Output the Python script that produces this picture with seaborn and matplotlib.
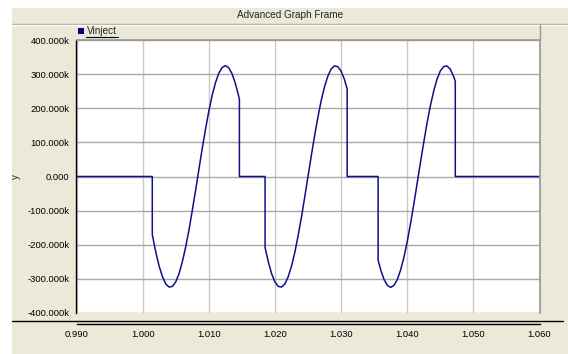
import pandas as pd
import seaborn as sns
import matplotlib.pyplot as plt
from matplotlib.lines import Line2D
from matplotlib.patches import Rectangle

# Vinject trace, values in k (thousands); three phase-controlled pulses
pulse1_t = [1.00146, 1.0015, 1.0020, 1.0025, 1.0030, 1.0035, 1.0040, 1.0045, 1.0050,
            1.0055, 1.0060, 1.0065, 1.0070, 1.0075, 1.0080, 1.0085, 1.0090, 1.0095,
            1.0100, 1.0105, 1.0110, 1.0115, 1.0120, 1.0125, 1.0130, 1.0135, 1.0140,
            1.0145, 1.01463]
pulse1_v = [-170, -174, -223, -263, -294, -315, -324, -322, -309,
            -285, -250, -207, -157, -100, -41, 20, 81, 138,
            191, 237, 274, 302, 319, 325, 319, 302, 274,
            237, 226]

pulse2_t = [1.01851, 1.0190, 1.0195, 1.0200, 1.0205, 1.0210, 1.0215, 1.0220, 1.0225,
            1.0230, 1.0235, 1.0240, 1.0245, 1.0250, 1.0255, 1.0260, 1.0265, 1.0270,
            1.0275, 1.0280, 1.0285, 1.0290, 1.0295, 1.0300, 1.0305, 1.03092]
pulse2_v = [-208, -250, -285, -309, -322, -324, -315, -294, -263,
            -223, -174, -120, -61, 0, 61, 120, 174, 223,
            263, 294, 315, 324, 322, 309, 285, 256]

pulse3_t = [1.0356, 1.0360, 1.0365, 1.0370, 1.0375, 1.0380, 1.0385, 1.0390, 1.0395,
            1.0400, 1.0405, 1.0410, 1.0415, 1.0420, 1.0425, 1.0430, 1.0435, 1.0440,
            1.0445, 1.0450, 1.0455, 1.0460, 1.0465, 1.0470, 1.04727]
pulse3_v = [-245, -274, -302, -319, -325, -319, -302, -274, -237,
            -191, -138, -81, -20, 41, 100, 157, 207, 250,
            285, 309, 322, 324, 315, 294, 279]

x_ticks = [0.990, 1.000, 1.010, 1.020, 1.030, 1.040, 1.050, 1.060]
y_ticks = [-400, -300, -200, -100, 0, 100, 200, 300, 400]

# stitch pulses together with zero segments in between
t = [0.990, pulse1_t[0]] + pulse1_t + [pulse1_t[-1], pulse2_t[0]] + pulse2_t \
    + [pulse2_t[-1], pulse3_t[0]] + pulse3_t + [pulse3_t[-1], 1.060]
v = [0, 0] + pulse1_v + [0, 0] + pulse2_v + [0, 0] + pulse3_v + [0, 0]
df = pd.DataFrame({'t': t, 'Vinject': v})

sns.set_theme(style='white')
plt.rcParams['font.family'] = ['Liberation Sans', 'DejaVu Sans']

W, H = 568, 354
beige = '#ECE9D8'
fig = plt.figure(figsize=(W / 100, H / 100), dpi=100, facecolor='white')

def fx(px):
    return px / W

def fy(py):
    return 1 - py / H

# window panel (behind the axes)
fig.patches.append(Rectangle((fx(12), 0), 1 - fx(12), fy(8), transform=fig.transFigure,
                             facecolor=beige, edgecolor='none', zorder=-10))
fig.add_artist(Line2D([fx(12), 1], [fy(23.5), fy(23.5)], color='#a8a59a', lw=1))
fig.add_artist(Line2D([fx(12), 1], [fy(24.5), fy(24.5)], color='white', lw=1))
fig.text(fx(290), fy(15.5), 'Advanced Graph Frame', ha='center', va='center', fontsize=7.2)

ax = fig.add_axes([fx(76.5), fy(313), fx(539.5) - fx(76.5), fy(40) - fy(313)])
ax.set_facecolor('white')
ax.set_zorder(1)

for xt in x_ticks:
    ax.axvline(xt, color='#c8c8c8', lw=1, zorder=0)
for yt in y_ticks:
    ax.axhline(yt, color='#a8a8a8', lw=1, zorder=0)

sns.lineplot(data=df, x='t', y='Vinject', sort=False, estimator=None,
             color='#101088', lw=1.1, ax=ax, legend=False)

ax.set_xlim(0.990, 1.060)
ax.set_ylim(-400, 400)
ax.set_xticks(x_ticks)
ax.set_xticklabels([f'{x:.3f}' for x in x_ticks])
ax.set_yticks(y_ticks)
ax.set_yticklabels(['0.000' if y == 0 else f'{y:.3f}k' for y in y_ticks])
ax.set_xlabel('')
ax.set_ylabel('y', fontsize=7)
ax.yaxis.set_label_coords(-(76 - 20) / 463, 0.5)

ax.spines['left'].set_color('black')
ax.spines['left'].set_linewidth(1)
ax.spines['top'].set_color('#9a9a9a')
ax.spines['right'].set_color('#9a9a9a')
ax.spines['bottom'].set_position(('outward', 8))
ax.spines['bottom'].set_color('black')
ax.spines['bottom'].set_linewidth(1)
ax.tick_params(axis='both', direction='out', length=3, width=1, colors='black',
               labelsize=6.8, pad=2)
ax.tick_params(axis='x', pad=1)

# full-width x-axis rule and legend row separator
fig.add_artist(Line2D([fx(12), fx(563)], [fy(321), fy(321)], color='black', lw=1))
fig.add_artist(Line2D([fx(539.5), fx(539.5)], [fy(24), fy(40)], color='#9a9a9a', lw=1))

# legend: small square + underlined name
fig.patches.append(Rectangle((fx(78), fy(34)), fx(6), fy(28) - fy(34), transform=fig.transFigure,
                             facecolor='#000080', edgecolor='none'))
fig.text(fx(87), fy(31), 'Vinject', ha='left', va='center', fontsize=7.2)
fig.add_artist(Line2D([fx(86), fx(118)], [fy(37), fy(37)], color='black', lw=0.8))

fig.savefig('out.png', dpi=100, facecolor=fig.get_facecolor())
